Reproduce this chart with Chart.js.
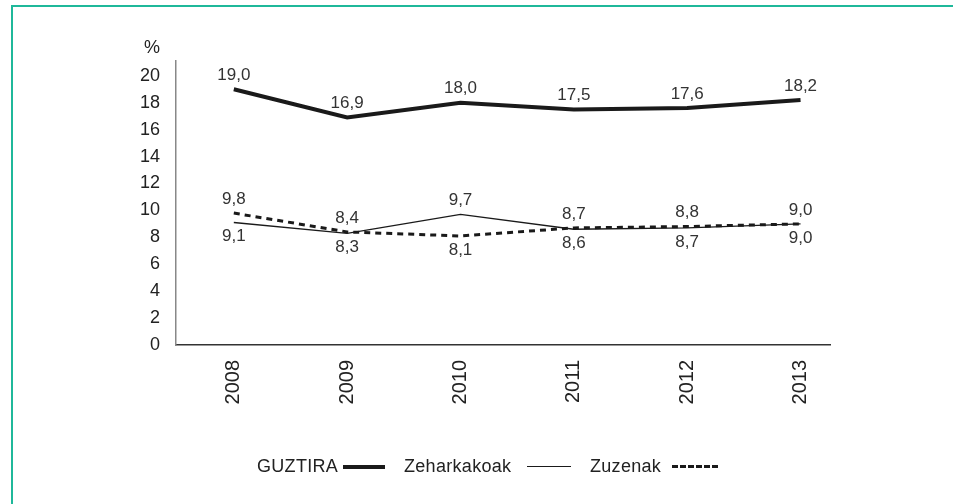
<!DOCTYPE html>
<html>
<head>
<meta charset="utf-8">
<script src="https://cdn.jsdelivr.net/npm/chart.js@4.4.1/dist/chart.umd.min.js"></script>
<style>
  html, body { margin: 0; padding: 0; background: #fff; }
  body { width: 953px; height: 504px; position: relative; overflow: hidden; font-family: "Liberation Sans", Arial, sans-serif; }
  .frame { position: absolute; left: 11px; top: 5px; width: 960px; height: 520px; border-left: 2px solid #1fb89a; border-top: 2px solid #1fb89a; }
  #wrap { position: absolute; left: 0; top: 0; width: 953px; height: 504px; }
  .legend { position: absolute; top: 455px; left: 0; width: 953px; height: 24px; font-size: 18px; color: #222; white-space: nowrap; }
  .legend .txt { position: absolute; top: 0; line-height: 22px; letter-spacing: 0.3px; }
  .legend .sample { position: absolute; }
</style>
</head>
<body>
<div class="frame"></div>
<div id="wrap"><canvas id="chart" width="953" height="504"></canvas></div>
<div class="legend">
  <span class="txt" style="left: 257px;">GUZTIRA</span>
  <span class="sample" style="left: 343px; top: 10px; width: 42px; border-top: 4px solid #1a1a1a;"></span>
  <span class="txt" style="left: 404px;">Zeharkakoak</span>
  <span class="sample" style="left: 527px; top: 11px; width: 44px; border-top: 1px solid #1a1a1a;"></span>
  <span class="txt" style="left: 590px;">Zuzenak</span>
  <span class="sample" style="left: 672px; top: 10px; width: 46px; border-top: 3px dashed #1a1a1a;"></span>
</div>
<script>
'use strict';

const years = [2008, 2009, 2010, 2011, 2012, 2013];
const guztira = [19.0, 16.9, 18.0, 17.5, 17.6, 18.2];
const zeharkakoak = [9.1, 8.3, 9.7, 8.6, 8.7, 9.0];
const zuzenak = [9.8, 8.4, 8.1, 8.7, 8.8, 9.0];
const yTicks = [0, 2, 4, 6, 8, 10, 12, 14, 16, 18, 20];

// label placement: -1 above the point, 1 below
const labelSide = [
    [-1, -1, -1, -1, -1, -1],
    [1, 1, -1, 1, 1, 1],
    [-1, -1, 1, -1, -1, -1]
];

function fmt(v) {
    return v.toFixed(1).replace('.', ',');
}

function toPoints(values) {
    return values.map((v, i) => ({ x: years[i], y: v }));
}

const valueLabels = {
    id: 'valueLabels',
    afterDatasetsDraw(chart) {
        const ctx = chart.ctx;
        ctx.save();
        ctx.font = '17px "Liberation Sans", Arial, sans-serif';
        ctx.fillStyle = '#333';
        ctx.textAlign = 'center';
        ctx.textBaseline = 'middle';
        chart.data.datasets.forEach((ds, di) => {
            const meta = chart.getDatasetMeta(di);
            meta.data.forEach((pt, i) => {
                const off = labelSide[di][i] < 0 ? -14 : 14;
                ctx.fillText(fmt(ds.data[i].y), pt.x, pt.y + off);
            });
        });
        // unit over the y axis
        ctx.font = '18px "Liberation Sans", Arial, sans-serif';
        ctx.fillStyle = '#222';
        ctx.textAlign = 'right';
        ctx.fillText('%', 160, 48);
        ctx.restore();
    }
};

new Chart(document.getElementById('chart'), {
    type: 'line',
    data: {
        datasets: [
            { label: 'GUZTIRA', data: toPoints(guztira), borderColor: '#1a1a1a', borderWidth: 4, pointRadius: 0, tension: 0 },
            { label: 'Zeharkakoak', data: toPoints(zeharkakoak), borderColor: '#1a1a1a', borderWidth: 1.3, pointRadius: 0, tension: 0 },
            { label: 'Zuzenak', data: toPoints(zuzenak), borderColor: '#1a1a1a', borderWidth: 3, borderDash: [6, 5], pointRadius: 0, tension: 0 }
        ]
    },
    options: {
        responsive: false,
        animation: false,
        layout: { padding: { top: 61, right: 123, left: 0, bottom: 0 } },
        plugins: { legend: { display: false }, tooltip: { enabled: false } },
        scales: {
            x: {
                type: 'linear',
                min: 2007.49,
                max: 2013.26,
                afterBuildTicks: (scale) => { scale.ticks = years.map(v => ({ value: v })); },
                afterFit: (scale) => { scale.height = 159; },
                grid: { display: false, drawTicks: false },
                border: { display: true, color: '#333', width: 1.5 },
                ticks: {
                    minRotation: 90, maxRotation: 90, padding: 15,
                    color: '#222',
                    font: { family: '"Liberation Sans", Arial, sans-serif', size: 20 },
                    callback: (v) => String(v)
                }
            },
            y: {
                min: 0,
                max: 21.1,
                afterBuildTicks: (scale) => { scale.ticks = yTicks.map(v => ({ value: v })); },
                afterFit: (scale) => { scale.width = 176; },
                grid: { display: false, drawTicks: false },
                border: { display: true, color: '#888', width: 1.5 },
                ticks: {
                    padding: 16,
                    color: '#222',
                    font: { family: '"Liberation Sans", Arial, sans-serif', size: 18 }
                }
            }
        }
    },
    plugins: [valueLabels]
});
</script>
</body>
</html>
